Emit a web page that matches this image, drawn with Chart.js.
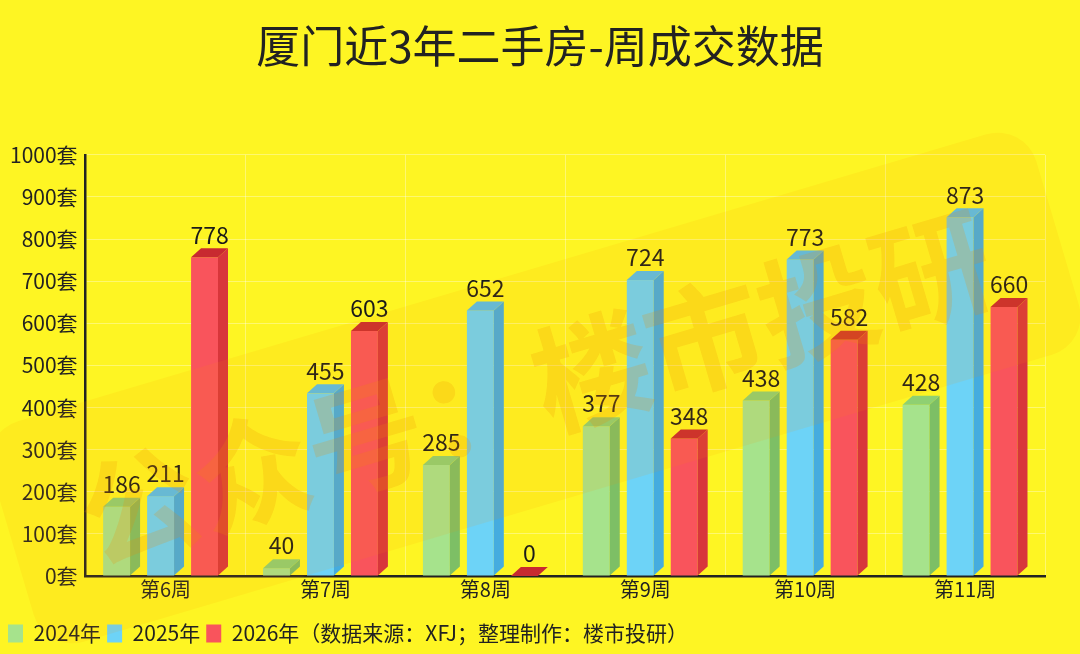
<!DOCTYPE html>
<html>
<head>
<meta charset="utf-8">
<script src="https://cdn.jsdelivr.net/npm/chart.js@4.4.1/dist/chart.umd.min.js"></script>
<style>
  html, body { margin: 0; padding: 0; background: #FEF523; }
  #wrap { width: 1080px; height: 654px; }
</style>
</head>
<body>
<div id="wrap"><canvas id="c"></canvas></div>
<script>
const weeks = ['第6周', '第7周', '第8周', '第9周', '第10周', '第11周'];
const sales2024 = [186, 40, 285, 377, 438, 428];
const sales2025 = [211, 455, 652, 724, 773, 873];
const sales2026 = [778, 603, 0, 348, 582, 660];
const yMax = 1000;
const yStep = 100;

const TITLE = '厦门近3年二手房-周成交数据';
const FONT = '"Noto Sans CJK SC", "Noto Sans", sans-serif';
const depthX = 10, depthY = 9;

function poly(ctx, pts, color) {
  ctx.fillStyle = color;
  ctx.beginPath();
  ctx.moveTo(pts[0][0], pts[0][1]);
  for (let k = 1; k < pts.length; k++) ctx.lineTo(pts[k][0], pts[k][1]);
  ctx.closePath();
  ctx.fill();
}

// 3D bars: front + side + top, then value labels
const bars3d = {
  id: 'bars3d',
  beforeDatasetsDraw(chart) {
    const ctx = chart.ctx;
    ctx.save();
    chart.data.datasets.forEach((ds, i) => {
      const meta = chart.getDatasetMeta(i);
      meta.data.forEach((bar, j) => {
        const left = bar.x - bar.width / 2;
        const fw = bar.width - depthX;
        const right = left + fw;
        const base = bar.base;
        const top = Math.min(bar.y + depthY, base);
        ctx.fillStyle = ds.faces.front;
        ctx.fillRect(left, top, fw, base - top);
        poly(ctx, [[right, top], [right + depthX, top - depthY], [right + depthX, base - depthY], [right, base]], ds.faces.side);
        poly(ctx, [[left, top], [left + depthX, top - depthY], [right + depthX, top - depthY], [right, top]], ds.faces.top);
        ctx.fillStyle = '#1a1a1a';
        ctx.font = '23px ' + FONT;
        ctx.textAlign = 'center';
        ctx.textBaseline = 'bottom';
        ctx.fillText(ds.data[j], bar.x, top - depthY - 2);
      });
    });
    ctx.restore();
    return false;
  }
};

// title centred on the whole canvas + watermark
const overlay = {
  id: 'overlay',
  afterDraw(chart) {
    const ctx = chart.ctx;
    ctx.save();
    const tb = chart.titleBlock;
    ctx.fillStyle = '#222';
    ctx.font = '44px ' + FONT;
    ctx.textAlign = 'center';
    ctx.textBaseline = 'middle';
    ctx.fillText(TITLE, chart.width / 2, tb.top + 20 + 26);

    ctx.translate(535, 388);
    ctx.rotate(-16.5 * Math.PI / 180);
    ctx.fillStyle = 'rgba(255,150,0,0.10)';
    ctx.beginPath();
    ctx.roundRect(-545, -115, 1090, 230, 40);
    ctx.fill();
    ctx.font = 'bold 118px ' + FONT;
    ctx.fillStyle = 'rgba(240,140,0,0.20)';
    ctx.fillText('公众号：楼市投研', 0, 0);
    ctx.restore();
  }
};

const ctx = document.getElementById('c').getContext('2d');
new Chart(ctx, {
  type: 'bar',
  data: {
    labels: weeks,
    datasets: [
      { label: '2024年', data: sales2024, backgroundColor: '#A6E38C',
        faces: { front: '#A6E38C', side: '#7DBF65', top: '#8FD072' } },
      { label: '2025年', data: sales2025, backgroundColor: '#6DD3F7',
        faces: { front: '#6DD3F7', side: '#45ACDF', top: '#57BEEB' } },
      { label: '2026年（数据来源：XFJ；整理制作：楼市投研）', data: sales2026, backgroundColor: '#F9545C',
        faces: { front: '#F9545C', side: '#D8363B', top: '#C82A30' } }
    ]
  },
  options: {
    responsive: true,
    maintainAspectRatio: false,
    animation: false,
    datasets: { bar: { categoryPercentage: 0.825, barPercentage: 0.84 } },
    layout: { padding: { left: 2, right: 35, top: 0, bottom: 0 } },
    plugins: {
      title: {
        display: true,
        text: TITLE,
        color: 'rgba(0,0,0,0)',   // drawn by overlay, centred on canvas
        font: { family: FONT, size: 44, weight: 'normal' },
        padding: { top: 20, bottom: 82 }
      },
      legend: {
        position: 'bottom',
        align: 'start',
        labels: {
          color: '#222',
          font: { family: FONT, size: 21 },
          boxWidth: 15,
          boxHeight: 18,
          padding: 6
        }
      },
      tooltip: { enabled: false }
    },
    scales: {
      x: {
        grid: { color: 'rgba(255,255,255,0.35)', drawTicks: false },
        border: { color: '#222', width: 2.5 },
        ticks: { color: '#222', font: { family: FONT, size: 20 }, padding: 1 },
        afterFit(scale) { scale.height += 15; }
      },
      y: {
        min: 0,
        max: yMax,
        grid: { color: 'rgba(255,255,255,0.35)', drawTicks: false },
        border: { color: '#222', width: 2.5 },
        ticks: {
          stepSize: yStep,
          color: '#222',
          font: { family: FONT, size: 21 },
          padding: 8,
          callback: v => v + '套'
        }
      }
    }
  },
  plugins: [bars3d, overlay]
});
</script>
</body>
</html>
